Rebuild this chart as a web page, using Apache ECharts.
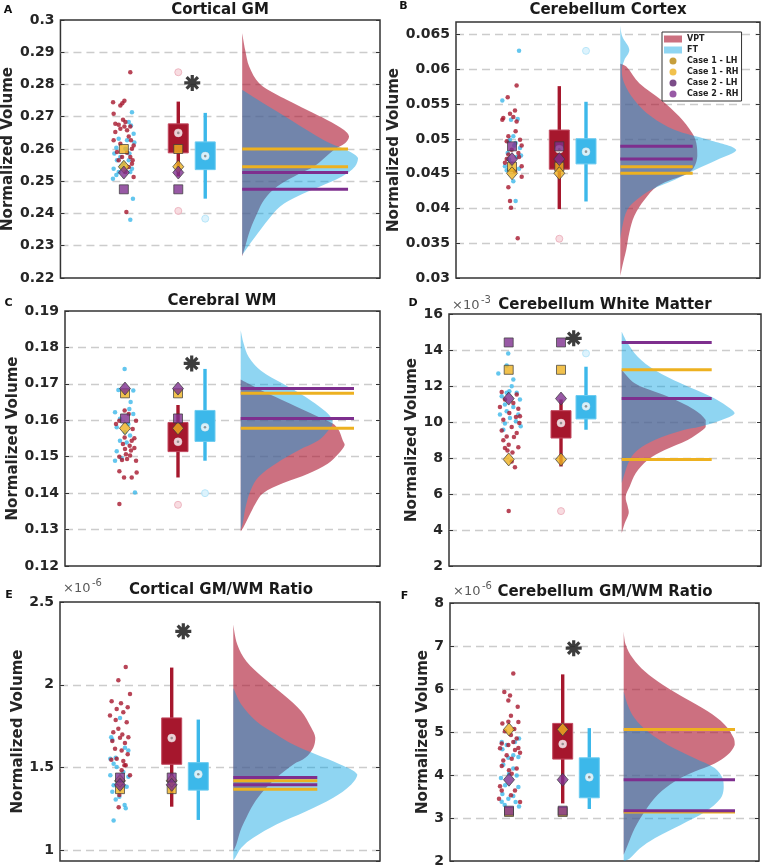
<!DOCTYPE html>
<html><head><meta charset="utf-8">
<script src="https://cdn.jsdelivr.net/npm/echarts@6/dist/echarts.min.js"></script>
<style>html,body{margin:0;padding:0;background:#fff}#c{width:763px;height:868px}</style>
</head><body><div id="c"></div><script>
// ================= DATA =================
const panelTitles = ['Cortical GM','Cerebellum Cortex','Cerebral WM','Cerebellum White Matter','Cortical GM/WM Ratio','Cerebellum GM/WM Ratio'];
const panelLetters = ['A','B','C','D','E','F'];
const exponents = [null,null,null,'-3','-6','-6'];
const yMin  = [0.22, 0.03,   0.12, 2,  0.936, 2];
const yMax  = [0.3,  0.0668, 0.19, 16, 2.5,   8];
const yStep = [0.01, 0.005,  0.01, 2,  0.5,   1];
const yLabel = 'Normalized Volume';
const groupNames = ['VPT','FT'];
const caseNames = ['Case 1 - LH','Case 1 - RH','Case 2 - LH','Case 2 - RH'];

// cloud dots: [jitter (-1..1), value]
const vptDotsA = [[.46,0.2838],[-.77,0.2745],[-.25,0.2735],[-.11,0.2742],[.04,0.2750],[-.73,0.2709],[-.61,0.2678],[-.37,0.2675],[-.06,0.2691],[.04,0.2670],[.23,0.2658],[.46,0.2670],[-.61,0.2653],[.35,0.2639],[.51,0.2627],[.70,0.2611],[-.73,0.2627],[-.25,0.2616],[.58,0.2601],[.23,0.2588],[.46,0.2575],[.63,0.2565],[.35,0.2544],[.70,0.2513],[-.37,0.2565],[.11,0.2529],[.18,0.2405],[-.49,0.2591],[-.13,0.2575],[.58,0.2554],[-.25,0.2663],[.11,0.2684]];
const ftDotsA = [[.58,0.2714],[.35,0.2684],[.51,0.2673],[.70,0.2647],[.23,0.2627],[-.37,0.2632],[-.54,0.2604],[.75,0.2620],[-.68,0.2586],[-.25,0.2575],[.35,0.2565],[-.49,0.2565],[-.01,0.2555],[-.73,0.2539],[.58,0.2539],[-.37,0.2529],[.46,0.2529],[-.78,0.2508],[.65,0.2446],[.46,0.2381],[.11,0.2601],[-.2,0.2546],[-.54,0.2519],[.4,0.2586]];
const vptDotsB = [[.42,0.05766],[-.39,0.05599],[.27,0.05408],[-.18,0.05361],[-.79,0.05299],[-.88,0.05275],[.12,0.05313],[.42,0.05251],[.33,0.05108],[-.33,0.05036],[.73,0.04989],[-.48,0.04965],[.88,0.04903],[-.03,0.04845],[.58,0.04798],[-.33,0.04774],[-.64,0.04655],[.88,0.04607],[.27,0.04535],[.88,0.04454],[-.33,0.04306],[-.18,0.04106],[-.09,0.04010],[.52,0.03572],[.64,0.04740],[-.48,0.04712]];
const ftDotsB = [[.64,0.06267],[-.88,0.05551],[-.09,0.05275],[.52,0.05284],[.12,0.05036],[-.33,0.04965],[.33,0.04941],[.73,0.04869],[-.39,0.04798],[.42,0.04740],[.82,0.04760],[-.64,0.04607],[-.09,0.04645],[-.48,0.04550],[.64,0.04569],[.12,0.04392],[.33,0.04106],[-.18,0.04989],[.21,0.04903],[-.27,0.04702]];
const vptDotsC = [[-.03,0.1627],[.31,0.1617],[-.47,0.1599],[.92,0.1599],[-.75,0.1590],[.64,0.1576],[-.03,0.1553],[.78,0.1551],[-.17,0.1535],[.39,0.1530],[.78,0.1524],[.5,0.1517],[.08,0.1507],[-.47,0.1500],[.42,0.1503],[-.25,0.1491],[.17,0.1494],[.92,0.1489],[-.47,0.1460],[.97,0.1457],[-.08,0.1443],[.56,0.1443],[-.47,0.1370],[.56,0.1544],[0,0.1521]];
const ftDotsC = [[-.03,0.1741],[-.55,0.1683],[.69,0.1682],[.47,0.1650],[.36,0.1631],[-.83,0.1622],[.69,0.1617],[-.42,0.1604],[.28,0.1590],[-.69,0.1581],[0,0.1567],[.42,0.1558],[-.42,0.1544],[.14,0.1539],[-.69,0.1515],[-.83,0.1489],[-.28,0.1496],[.83,0.1402]];
const vptDotsD = [[-.56,11.66],[.64,11.53],[-.30,11.25],[.37,11.06],[-.70,10.84],[.77,10.73],[.05,10.50],[.58,10.28],[-.43,10.13],[.85,9.94],[.24,9.72],[-.56,9.53],[.64,9.39],[-.16,9.20],[.42,9.16],[-.43,8.98],[0,8.73],[-.30,8.55],[.77,8.60],[-.1,8.41],[.3,8.31],[.24,7.80],[.5,7.49],[0,5.05],[.9,10.32]];
const ftDotsD = [[-.04,13.81],[-.16,13.14],[-.83,12.70],[.24,11.99],[.05,11.71],[.64,11.62],[-.56,11.43],[.9,11.25],[-.30,10.97],[.37,10.84],[-.16,10.60],[.77,10.41],[-.70,10.41],[.1,10.22],[.58,10.04],[-.30,9.91],[.96,9.76],[-.43,9.57],[-.16,11.62],[.37,12.36]];
const vptDotsE = [[.52,2.108],[-.15,2.028],[.91,1.944],[-.76,1.900],[.09,1.888],[-.30,1.854],[.70,1.864],[-.91,1.814],[.3,1.834],[-.39,1.788],[.61,1.774],[-.15,1.734],[-.61,1.714],[.21,1.700],[0,1.680],[.76,1.684],[-.70,1.660],[.45,1.648],[-.45,1.614],[.15,1.604],[.70,1.580],[-.30,1.554],[.3,1.540],[-.79,1.548],[.52,1.514],[.15,1.484],[.91,1.454],[-.06,1.334],[-.12,1.260],[.4,1.514]];
const ftDotsE = [[0,1.800],[-.70,1.668],[-.8,1.684],[.45,1.620],[.76,1.604],[-.88,1.554],[-.39,1.560],[-.58,1.524],[-.3,1.504],[.3,1.474],[-.88,1.454],[.76,1.444],[-.58,1.394],[.61,1.384],[-.7,1.354],[-.06,1.324],[-.39,1.308],[.42,1.274],[.52,1.254],[-.58,1.180]];
const vptDotsF = [[.33,6.36],[-.36,5.93],[.08,5.85],[-.05,5.73],[.67,5.59],[.15,5.38],[-.51,5.20],[-.05,5.24],[.72,5.23],[-.31,5.02],[.41,5.07],[.15,4.93],[.59,4.85],[-.56,4.73],[.33,4.77],[-.05,4.70],[.72,4.63],[-.69,4.62],[.46,4.58],[-.18,4.46],[.85,4.52],[-.44,4.34],[.21,4.38],[-.56,4.21],[0,4.11],[.59,4.15],[.21,4.03],[-.69,3.74],[-.56,3.64],[.46,3.64],[-.77,3.45],[.85,3.37],[.15,3.53]];
const ftDotsF = [[.77,4.85],[-.56,4.77],[.46,4.77],[-.18,4.70],[-.51,4.60],[.33,4.46],[-.05,4.40],[.72,4.42],[-.44,4.24],[.33,4.15],[0,4.03],[.59,3.99],[-.62,3.93],[-.3,3.76],[.72,3.72],[-.51,3.56],[.33,3.51],[-.05,3.45],[.51,3.37],[-.33,3.30],[.77,3.27],[-.56,3.38]];

// box stats: [lower whisker, Q1, median, Q3, upper whisker]
const vptBox = [[0.2515,0.2588,0.2650,0.2678,0.2747],[0.0399,0.04564,0.0485,0.05127,0.05758],[0.1443,0.1514,0.1541,0.1594,0.1642],[7.53,9.11,9.94,10.63,11.25],[1.264,1.52,1.678,1.80,2.104],[3.34,4.37,4.72,5.20,6.34]];
const ftBox  = [[0.2446,0.2536,0.2578,0.2622,0.2712],[0.0410,0.0464,0.04816,0.05002,0.05533],[0.1489,0.1542,0.1581,0.1627,0.1741],[9.57,10.17,10.87,11.47,13.07],[1.184,1.364,1.46,1.53,1.79],[3.21,3.47,3.95,4.40,5.09]];
const vptOutliers = [[0.2838,0.2408],[0.03564],[0.1368],[5.05],[],[]];
const ftOutliers  = [[0.2384],[0.06265],[0.1400],[13.81],[],[]];

// case values per panel
const case1LH = [0.2600, 0.0460,  0.1674, 12.90, 1.370, 3.14];
const case1RH = [0.2545, 0.04506, 0.1578, 7.92,  1.420, 5.06];
const case2LH = [0.2475, 0.04893, 0.1605, 14.42, 1.440, 3.17];
const case2RH = [0.2527, 0.04709, 0.1687, 11.30, 1.396, 3.89];

// significance star values (null = none)
const starValue = [0.2805, null, 0.1756, 14.65, 2.323, 6.95];

// half-violin outlines: [value, density]
const vptDensA = [[0.2959,0],[0.2907,3],[0.2856,7],[0.2804,17],[0.2773,32],[0.2752,45],[0.2721,65],[0.2690,85],[0.2659,102],[0.2639,107],[0.2618,103],[0.2598,92],[0.2546,72],[0.2525,58],[0.2484,35],[0.2443,22],[0.2401,15],[0.2350,8],[0.2298,3],[0.2267,0]];
const ftDensA  = [[0.2783,0],[0.2752,16],[0.2701,43],[0.2649,70],[0.2618,88],[0.2598,104],[0.2572,116],[0.2546,113],[0.2515,100],[0.2484,78],[0.2453,55],[0.2422,38],[0.2381,26],[0.2340,16],[0.2298,6],[0.2272,0]];
const vptDensB = [[0.0608,0],[0.0604,6],[0.0580,19],[0.0556,41],[0.0532,59],[0.0508,72],[0.0494,76],[0.0475,77],[0.0460,74],[0.0451,68],[0.0432,37],[0.0412,24],[0.0389,14],[0.0365,9],[0.0341,6],[0.0317,2],[0.0303,0]];
const ftDensB  = [[0.0663,0],[0.0647,2],[0.0628,9],[0.0613,4],[0.0599,1.5],[0.0580,4],[0.0556,14],[0.0532,31],[0.0513,54],[0.0499,87],[0.0484,116],[0.0470,97],[0.0455,74],[0.0441,54],[0.0427,31],[0.0412,16],[0.0398,7],[0.0374,2],[0.0355,0]];
const vptDensC = [[0.1712,0],[0.1700,8],[0.1682,21],[0.1646,49],[0.1609,78],[0.1591,92],[0.1573,98],[0.1545,102],[0.1532,104],[0.1509,98],[0.1481,87],[0.1454,68],[0.1427,42],[0.1399,22],[0.1372,15],[0.1335,8],[0.1308,3],[0.1295,0]];
const ftDensC  = [[0.1847,0],[0.1810,3],[0.1774,8],[0.1737,20],[0.1701,42],[0.1664,65],[0.1628,83],[0.1609,90],[0.1591,92],[0.1573,88],[0.1545,78],[0.1518,58],[0.1481,35],[0.1445,18],[0.1408,10],[0.1363,5],[0.1317,2],[0.1300,0]];
const vptDensD = [[12.9,0],[12.15,13],[11.41,46],[10.67,73],[10.11,84],[9.74,84],[9.56,81],[9.0,66],[8.44,43],[7.89,26],[7.15,14],[6.41,8],[5.85,4],[5.30,6],[4.93,7],[4.37,3],[3.81,0]];
const ftDensD  = [[15.02,0],[14.37,6],[13.63,16],[12.89,33],[12.15,59],[11.41,89],[10.85,106],[10.48,113],[10.11,100],[9.74,78],[9.56,62],[9.0,33],[8.44,16],[7.89,8],[7.15,3],[6.6,0]];
const vptDensE = [[2.363,0],[2.243,4],[2.142,13],[2.042,30],[1.941,50],[1.84,68],[1.74,78],[1.68,82],[1.62,80],[1.559,72],[1.519,60],[1.438,43],[1.358,30],[1.277,20],[1.197,13],[1.117,7],[1.036,3],[0.996,0]];
const ftDensE  = [[1.981,0],[1.881,8],[1.78,23],[1.70,43],[1.639,60],[1.579,83],[1.519,107],[1.458,124],[1.398,118],[1.318,100],[1.237,73],[1.157,43],[1.076,20],[1.016,8],[0.956,2],[0.94,0]];
const vptDensF = [[7.34,0],[7.03,2],[6.72,9],[6.41,21],[6.10,39],[5.79,61],[5.48,84],[5.17,101],[4.86,110],[4.70,111],[4.47,104],[4.27,91],[4.08,71],[3.85,51],[3.54,34],[3.15,21],[2.76,11],[2.37,4],[2.14,0]];
const ftDensF  = [[5.94,0],[5.63,4],[5.32,11],[5.01,24],[4.70,44],[4.39,71],[4.16,91],[3.92,99],[3.69,100],[3.46,97],[3.15,82],[2.84,57],[2.53,31],[2.29,16],[2.06,6],[2.0,0]];

// ================= LAYOUT / STYLE =================
const vptDots = [vptDotsA,vptDotsB,vptDotsC,vptDotsD,vptDotsE,vptDotsF];
const ftDots  = [ftDotsA,ftDotsB,ftDotsC,ftDotsD,ftDotsE,ftDotsF];
const vptDens = [vptDensA,vptDensB,vptDensC,vptDensD,vptDensE,vptDensF];
const ftDens  = [ftDensA,ftDensB,ftDensC,ftDensD,ftDensE,ftDensF];
const caseVals = [case1LH, case1RH, case2LH, case2RH];

const layout = [
 {left:60,  top:20,  width:320, height:258, cloudX:63.5, cloudHalf:14,   vptX:118,   ftX:145,   violinX:182,   lineEnd:288,   starX:132,   nameGap:42, title:[220,10],  letter:[8,10],    showMin:true,  showMax:true},
 {left:456, top:22,  width:304, height:256, cloudX:56,   cloudHalf:11,   vptX:103.3, ftX:130,   violinX:164.3, lineEnd:236.7, starX:null,  nameGap:51, title:[608,10],  letter:[403.5,6], showMin:true,  showMax:false},
 {left:65,  top:311, width:315, height:255, cloudX:60,   cloudHalf:12,   vptX:113,   ftX:140,   violinX:175.7, lineEnd:289,   starX:126.7, nameGap:41, title:[222,301], letter:[8.5,303.5], showMin:true, showMax:true},
 {left:449, top:314, width:312, height:252, cloudX:59.7, cloudHalf:12.5, vptX:112,   ftX:137,   violinX:172.7, lineEnd:262.7, starX:124.7, nameGap:26, title:[605,305], letter:[413,303.5], showMin:true, showMax:true, exp:[452,306]},
 {left:60,  top:602, width:320, height:259, cloudX:60,   cloudHalf:11,   vptX:111.7, ftX:138.3, violinX:173.3, lineEnd:257.3, starX:123.3, nameGap:33, title:[221,590], letter:[9,595],   showMin:false, showMax:true, exp:[63,589]},
 {left:450, top:603, width:309, height:258, cloudX:59,   cloudHalf:13,   vptX:112.7, ftX:139.3, violinX:173.7, lineEnd:285,   starX:123.7, nameGap:19, title:[605,592], letter:[404.5,596.5], showMin:true, showMax:true, exp:[453,592]}
];

const FONT = '"DejaVu Sans", "Liberation Sans", sans-serif';
const VPT_C = '#A6172D', FT_C = '#3CB8EA';
const VPT_FILL = 'rgba(170,17,43,0.6)', FT_FILL = 'rgba(0,160,225,0.44)';
const CASE_COLORS = ['#EDB120','#EDB120','#7E2F8E','#7E2F8E'];
const CASE_SYMBOLS = ['rect','diamond','rect','diamond'];
const CASE_SIZES = [9,[11,13],9,[11,13]];
const LEGEND_CASE_COLORS = ['#B8860B','#EDB120','#5A1F6A','#7E2F8E'];
const STAR = 'path://M-10,-2L10,-2L10,2L-10,2Z M-2,-10L2,-10L2,10L-2,10Z M-8.485,-5.657L-5.657,-8.485L8.485,5.657L5.657,8.485Z M5.657,-8.485L8.485,-5.657L-5.657,8.485L-8.485,5.657Z';

function fmt(v){ return String(parseFloat(Number(v).toPrecision(6))); }

function yAxisCfg(i, right){
  const L = layout[i];
  const base = {
    gridIndex:i, type:'value', min:yMin[i], max:yMax[i], minInterval:yStep[i], maxInterval:yStep[i], splitNumber:6,
    position: right ? 'right' : 'left',
    axisLine:{show:false},
    axisTick:{show:true, inside:true, length:4, lineStyle:{color:'#333', width:1}},
  };
  if (right) {
    base.axisLabel = {show:false};
    base.splitLine = {show:false};
  } else {
    base.axisLabel = {show:true, fontSize:14, fontWeight:'bold', color:'#262626', fontFamily:FONT, margin:6, formatter:fmt, showMinLabel:L.showMin, showMaxLabel:L.showMax};
    base.splitLine = {show:true, showMinLine:false, showMaxLine:false, lineStyle:{type:[8,5], color:'#cccccc', width:1.3}};
    base.name = yLabel; base.nameLocation = 'middle'; base.nameGap = L.nameGap;
    base.nameTextStyle = {fontSize:15, fontWeight:'bold', color:'#262626', fontFamily:FONT};
  }
  return base;
}

function violin(i, name, pts, fill){
  const L = layout[i];
  return {
    type:'custom', name, xAxisIndex:i, yAxisIndex:i, silent:true, z:1, clip:true,
    itemStyle:{color:fill},
    data: pts.map(p => [L.violinX + p[1], p[0]]),
    renderItem: (params, api) => {
      if (params.dataIndex !== 0) return null;
      const points = pts.map(p => api.coord([L.violinX + p[1], p[0]]));
      let mnx=Infinity,mny=Infinity,mxx=-Infinity,mxy=-Infinity;
      points.forEach(q=>{mnx=Math.min(mnx,q[0]);mny=Math.min(mny,q[1]);mxx=Math.max(mxx,q[0]);mxy=Math.max(mxy,q[1]);});
      return {type:'polygon', shape:{points, smooth:0.35, smoothConstraint:[[mnx,mny],[mxx,mxy]]}, style:{fill}};
    }
  };
}

function boxSeries(i, x, stats, fill, stroke){
  return {
    type:'custom', xAxisIndex:i, yAxisIndex:i, silent:true, z:3, clip:false,
    data:[[x].concat(stats)],
    encode:{x:0, y:[1,2,3,4,5]},
    renderItem: (params, api) => {
      const cx = api.value(0);
      const lo = api.coord([cx, api.value(1)]), q1 = api.coord([cx, api.value(2)]);
      const q3 = api.coord([cx, api.value(4)]), hi = api.coord([cx, api.value(5)]);
      return {type:'group', children:[
        {type:'rect', shape:{x:lo[0]-1.7, y:hi[1], width:3.4, height:lo[1]-hi[1]}, style:{fill}},
        {type:'rect', shape:{x:q3[0]-10, y:q3[1], width:20, height:q1[1]-q3[1]}, style:{fill, stroke, lineWidth:1}}
      ]};
    }
  };
}

const series = [];
for (let i = 0; i < 6; i++) {
  const L = layout[i];
  series.push(violin(i, 'VPT', vptDens[i], VPT_FILL));
  series.push(violin(i, 'FT', ftDens[i], FT_FILL));
  caseVals.forEach((cv, k) => {
    series.push({type:'line', xAxisIndex:i, yAxisIndex:i, silent:true, z:2, symbol:'none', animation:false,
      lineStyle:{color:CASE_COLORS[k], width:3}, data:[[L.violinX, cv[i]],[L.lineEnd, cv[i]]]});
  });
  series.push({type:'scatter', xAxisIndex:i, yAxisIndex:i, silent:true, z:3, symbolSize:4.5,
    itemStyle:{color:FT_C}, data: ftDots[i].map(d => [L.cloudX + d[0]*L.cloudHalf, d[1]])});
  series.push({type:'scatter', xAxisIndex:i, yAxisIndex:i, silent:true, z:3, symbolSize:4.5,
    itemStyle:{color:VPT_C}, data: vptDots[i].map(d => [L.cloudX + d[0]*L.cloudHalf, d[1]])});
  series.push(boxSeries(i, L.vptX, vptBox[i], VPT_C, '#C24A61'));
  series.push(boxSeries(i, L.ftX, ftBox[i], FT_C, '#6CCBF0'));
  series.push({type:'scatter', xAxisIndex:i, yAxisIndex:i, silent:true, z:4, symbolSize:7,
    itemStyle:{color:'#F6D3D9', borderColor:'#EAAAB6', borderWidth:1}, data: vptOutliers[i].map(v => [L.vptX, v])});
  series.push({type:'scatter', xAxisIndex:i, yAxisIndex:i, silent:true, z:4, symbolSize:7,
    itemStyle:{color:'#D4F0FC', borderColor:'#AEE2F7', borderWidth:1}, data: ftOutliers[i].map(v => [L.ftX, v])});
  series.push({type:'scatter', xAxisIndex:i, yAxisIndex:i, silent:true, z:5, symbolSize:8,
    itemStyle:{color:'#ffffff', borderColor:'#dddddd', borderWidth:0.5},
    data:[[L.vptX, vptBox[i][2]],[L.ftX, ftBox[i][2]]]});
  series.push({type:'scatter', xAxisIndex:i, yAxisIndex:i, silent:true, z:5, symbolSize:2.6,
    itemStyle:{color:'#808080'}, data:[[L.vptX, vptBox[i][2]],[L.ftX, ftBox[i][2]]]});
  caseVals.forEach((cv, k) => {
    series.push({type:'scatter', name:caseNames[k], xAxisIndex:i, yAxisIndex:i, silent:true, z:6,
      symbol:CASE_SYMBOLS[k], symbolSize:CASE_SIZES[k],
      itemStyle:{color:CASE_COLORS[k], borderColor:'#3a3a3a', borderWidth:0.9},
      data:[[L.cloudX, cv[i]],[L.vptX, cv[i]]]});
  });
  if (starValue[i] != null) {
    series.push({type:'scatter', xAxisIndex:i, yAxisIndex:i, silent:true, z:6, symbol:STAR, symbolSize:16,
      itemStyle:{color:'#0d0d0d'}, data:[[L.starX, starValue[i]]]});
  }
}

const graphic = [];
for (let i = 0; i < 6; i++) {
  const L = layout[i];
  graphic.push({type:'text', x:L.title[0], y:L.title[1], silent:true,
    style:{text:panelTitles[i], fontSize:15, fontWeight:'bold', fontFamily:FONT, fill:'#1a1a1a', align:'center', verticalAlign:'middle'}});
  graphic.push({type:'text', x:L.letter[0], y:L.letter[1], silent:true,
    style:{text:panelLetters[i], fontSize:11, fontWeight:'bold', fontFamily:FONT, fill:'#111', align:'center', verticalAlign:'middle'}});
  if (exponents[i]) {
    graphic.push({type:'text', x:L.exp[0], y:L.exp[1], silent:true,
      style:{text:'\u00d710', fontSize:13, fontFamily:FONT, fill:'#5a5a5a', align:'left', verticalAlign:'middle'}});
    graphic.push({type:'text', x:L.exp[0]+29, y:L.exp[1]-6, silent:true,
      style:{text:exponents[i], fontSize:10, fontFamily:FONT, fill:'#5a5a5a', align:'left', verticalAlign:'middle'}});
  }
}

const option = {
  animation:false,
  backgroundColor:'#ffffff',
  textStyle:{fontFamily:FONT},
  grid: layout.map(L => ({left:L.left, top:L.top, width:L.width, height:L.height, show:true,
    borderColor:'#333', borderWidth:1.5, backgroundColor:'rgba(0,0,0,0)', containLabel:false})),
  xAxis: layout.map((L,i) => ({gridIndex:i, type:'value', min:0, max:L.width, show:false})),
  yAxis: [0,1,2,3,4,5].map(i => yAxisCfg(i,false)).concat([0,1,2,3,4,5].map(i => yAxisCfg(i,true))),
  legend: {
    left:662, top:32, orient:'vertical', selectedMode:false,
    itemWidth:18, itemHeight:7, itemGap:3, padding:[3,3,3,2],
    backgroundColor:'#ffffff', borderColor:'#333', borderWidth:1,
    textStyle:{fontSize:8, fontWeight:'bold', color:'#222', fontFamily:FONT},
    data:[
      {name:'VPT', icon:'rect'},
      {name:'FT', icon:'rect'},
      {name:caseNames[0], icon:'circle', itemStyle:{color:LEGEND_CASE_COLORS[0], borderWidth:0}},
      {name:caseNames[1], icon:'circle', itemStyle:{color:LEGEND_CASE_COLORS[1], borderWidth:0}},
      {name:caseNames[2], icon:'circle', itemStyle:{color:LEGEND_CASE_COLORS[2], borderWidth:0}},
      {name:caseNames[3], icon:'circle', itemStyle:{color:LEGEND_CASE_COLORS[3], borderWidth:0}}
    ]
  },
  graphic,
  series
};

const chart = echarts.init(document.getElementById('c'), null, {renderer:'canvas'});
chart.setOption(option);
</script></body></html>
